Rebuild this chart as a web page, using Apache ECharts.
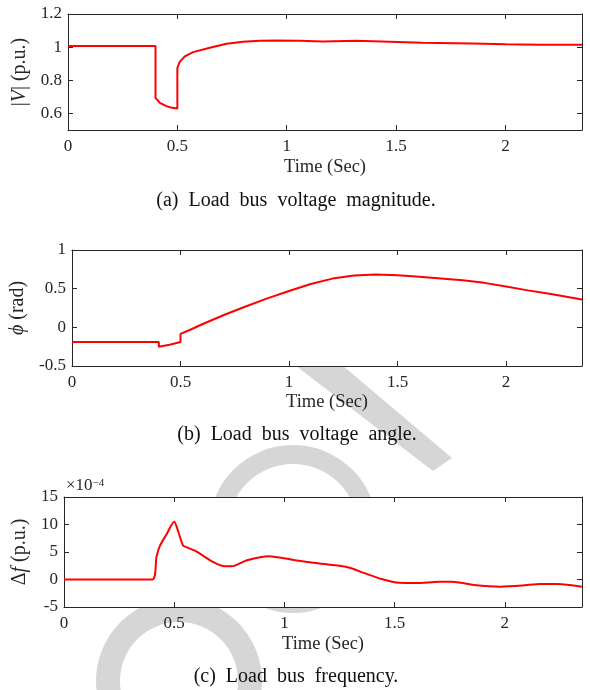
<!DOCTYPE html>
<html>
<head>
<meta charset="utf-8">
<script src="https://cdn.jsdelivr.net/npm/echarts@6/dist/echarts.min.js"></script>
<style>
html,body{margin:0;padding:0;background:#fff;}
#main{width:590px;height:690px;}
</style>
</head>
<body>
<div id="main"></div>
<script>
// ---- Data ----
// (a) Load bus voltage magnitude |V| (p.u.)
const tV   = [0, 0.4, 0.4, 0.42, 0.45, 0.47, 0.5, 0.5, 0.51, 0.534, 0.572, 0.648, 0.725, 0.8, 0.877, 0.95, 1.06, 1.165, 1.318, 1.47, 1.62, 1.85, 2.0, 2.155, 2.35];
const vMag = [1.007, 1.007, 0.694, 0.664, 0.644, 0.636, 0.63, 0.874, 0.91, 0.944, 0.97, 0.996, 1.02, 1.032, 1.038, 1.04, 1.038, 1.034, 1.038, 1.032, 1.026, 1.022, 1.018, 1.015, 1.014];
// (b) Load bus voltage angle phi (rad)
const tPhi = [0, 0.4, 0.4, 0.45, 0.5, 0.5, 0.55, 0.6, 0.7, 0.8, 0.9, 1.0, 1.1, 1.2, 1.3, 1.4, 1.5, 1.6, 1.7, 1.8, 1.9, 2.0, 2.1, 2.2, 2.35];
const phi  = [-0.19, -0.19, -0.25, -0.225, -0.19, -0.085, -0.025, 0.04, 0.16, 0.27, 0.375, 0.47, 0.56, 0.63, 0.67, 0.682, 0.674, 0.655, 0.633, 0.61, 0.575, 0.528, 0.478, 0.435, 0.36];
// (c) Load bus frequency deviation (x 1e-4 p.u.)
const tF = [0, 0.4, 0.42, 0.435, 0.465, 0.5, 0.52, 0.54, 0.56, 0.6, 0.68, 0.73, 0.76, 0.83, 0.93, 1.05, 1.16, 1.25, 1.3, 1.36, 1.44, 1.52, 1.6, 1.7, 1.76, 1.86, 1.98, 2.08, 2.16, 2.24, 2.35];
const dF = [0, 0, 4.2, 6.1, 8.2, 10.5, 8.5, 6.2, 5.8, 5.1, 3.1, 2.4, 2.4, 3.5, 4.25, 3.5, 2.9, 2.5, 2.1, 1.2, 0.1, -0.6, -0.65, -0.4, -0.4, -1.0, -1.3, -1.1, -0.8, -0.8, -1.3];

// tick values
const xTicks = [0, 0.5, 1, 1.5, 2];
const yTicksV = [0.6, 0.8, 1, 1.2];
const yTicksPhi = [-0.5, 0, 0.5, 1];
const yTicksF = [-5, 0, 5, 10, 15];

// captions
const captions = ['(a)  Load  bus  voltage  magnitude.', '(b)  Load  bus  voltage  angle.', '(c)  Load  bus  frequency.'];

const FONT = 'Liberation Serif';
const AX = '#262626';

function xAxis(gi, pos, withLabel, name, gap) {
  return {
    type: 'value', gridIndex: gi, position: pos, min: 0, max: 2.35,
    axisLine: { show: true, onZero: false, lineStyle: { color: AX, width: 1 } },
    axisTick: { show: true, inside: true, length: 5, customValues: xTicks, lineStyle: { color: AX } },
    axisLabel: { show: withLabel, customValues: xTicks, fontFamily: FONT, fontSize: 17, color: AX, margin: 8 },
    splitLine: { show: false },
    name: withLabel ? name : '', nameLocation: 'middle', nameGap: gap,
    nameTextStyle: { fontFamily: FONT, fontSize: 18.5, color: AX }
  };
}
function yAxis(gi, pos, withLabel, min, max, ticks, name, gap) {
  return {
    type: 'value', gridIndex: gi, position: pos, min: min, max: max,
    axisLine: { show: true, onZero: false, lineStyle: { color: AX, width: 1 } },
    axisTick: { show: true, inside: true, length: 5, customValues: ticks, lineStyle: { color: AX } },
    axisLabel: { show: withLabel, customValues: ticks, fontFamily: FONT, fontSize: 17, color: AX, margin: 6 },
    splitLine: { show: false },
    name: withLabel ? name : '', nameLocation: 'middle', nameGap: gap,
    nameTextStyle: { fontFamily: FONT, fontSize: 20, color: AX,
      rich: { i: { fontFamily: FONT, fontStyle: 'italic', fontSize: 20, color: AX } } }
  };
}

function pairs(xs, ys) { return xs.map((x, i) => [x, ys[i]]); }

const gridStyle = { show: true, backgroundColor: '#ffffff', borderWidth: 0 };
const WM = '#d6d6d6';

const option = {
  backgroundColor: '#ffffff',
  animation: false,
  grid: [
    Object.assign({ left: 68, top: 14, width: 514, height: 116 }, gridStyle),
    Object.assign({ left: 72, top: 250, width: 510, height: 116 }, gridStyle),
    Object.assign({ left: 64, top: 497, width: 518, height: 110 }, gridStyle)
  ],
  xAxis: [
    xAxis(0, 'bottom', true, 'Time (Sec)', 28), xAxis(0, 'top', false),
    xAxis(1, 'bottom', true, 'Time (Sec)', 27), xAxis(1, 'top', false),
    xAxis(2, 'bottom', true, 'Time (Sec)', 28), xAxis(2, 'top', false)
  ],
  yAxis: [
    yAxis(0, 'left', true, 0.5, 1.2, yTicksV, '|{i|V}| (p.u.)', 30), yAxis(0, 'right', false, 0.5, 1.2, yTicksV),
    yAxis(1, 'left', true, -0.5, 1, yTicksPhi, '{i|ϕ} (rad)', 35), yAxis(1, 'right', false, -0.5, 1, yTicksPhi),
    yAxis(2, 'left', true, -5, 15, yTicksF, 'Δ{i|f} (p.u.)', 27), yAxis(2, 'right', false, -5, 15, yTicksF)
  ],
  series: [
    { type: 'line', xAxisIndex: 0, yAxisIndex: 0, data: pairs(tV, vMag), showSymbol: false,
      lineStyle: { color: '#ff0000', width: 2 }, z: 5 },
    { type: 'line', xAxisIndex: 2, yAxisIndex: 2, data: pairs(tPhi, phi), showSymbol: false,
      lineStyle: { color: '#ff0000', width: 2 }, z: 5 },
    { type: 'line', xAxisIndex: 4, yAxisIndex: 4, data: pairs(tF, dF), showSymbol: false, smooth: 0.25,
      lineStyle: { color: '#ff0000', width: 2 }, z: 5 }
  ],
  graphic: [
    // watermark (behind the plot areas)
    { type: 'polygon', z: -5, shape: { points: [[210, 300], [265, 300], [452, 458], [433, 471]] }, style: { fill: WM } },
    { type: 'ring', z: -5, shape: { cx: 293, cy: 529, r: 84, r0: 65 }, style: { fill: WM } },
    { type: 'ring', z: -5, shape: { cx: 179, cy: 681, r: 83, r0: 59 }, style: { fill: WM } },
    // exponent label
    { type: 'text', z: 10, style: { x: 66, y: 486, text: '×10{s|−4}', textVerticalAlign: 'middle',
        font: '17px "Liberation Serif"', fill: AX,
        rich: { s: { fontSize: 11, fontFamily: FONT, verticalAlign: 'top', lineHeight: 11, fill: AX } } } },
    // captions
    { type: 'text', z: 10, style: { x: 296, y: 201, text: captions[0], textAlign: 'center', textVerticalAlign: 'middle', font: '20px "Liberation Serif"', fill: '#111' } },
    { type: 'text', z: 10, style: { x: 297, y: 435, text: captions[1], textAlign: 'center', textVerticalAlign: 'middle', font: '20px "Liberation Serif"', fill: '#111' } },
    { type: 'text', z: 10, style: { x: 296, y: 677, text: captions[2], textAlign: 'center', textVerticalAlign: 'middle', font: '20px "Liberation Serif"', fill: '#111' } }
  ]
};

const chart = echarts.init(document.getElementById('main'), null, { renderer: 'canvas' });
chart.setOption(option);
</script>
</body>
</html>
